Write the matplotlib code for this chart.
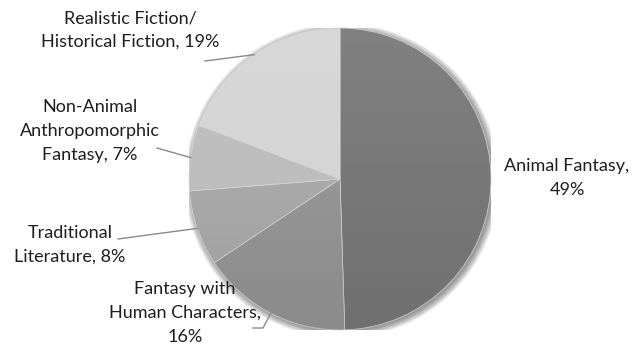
import numpy as np
import matplotlib
matplotlib.use('Agg')
import matplotlib.pyplot as plt
from matplotlib.patches import Circle

# 各类图书所占比例 (%)
genres = ['Animal Fantasy', 'Fantasy with Human Characters', 'Traditional Literature',
          'Non-Animal Anthropomorphic Fantasy', 'Realistic Fiction/ Historical Fiction']
shares = [49, 16, 8, 7, 19]
label_texts = ['Animal Fantasy,\n49%',
               'Fantasy with\nHuman Characters,\n16%',
               'Traditional\nLiterature, 8%',
               'Non-Animal\nAnthropomorphic\nFantasy, 7%',
               'Realistic Fiction/\nHistorical Fiction, 19%']
colors = ['#787878', '#959595', '#a9a9a9', '#bdbdbd', '#d5d5d5']

W, H = 642, 350
cx, cy, r = 340, 179, 151


def to_data(px, py):
    # 像素坐标 -> 饼图数据坐标 (半径为 1)
    return (px - cx) / r, (cy - py) / r


plt.rcParams['font.family'] = ['Lato', 'DejaVu Sans']
fig = plt.figure(figsize=(W / 100, H / 100), dpi=100)
ax = fig.add_axes([(cx - r) / W, (H - cy - r) / H, 2 * r / W, 2 * r / H])

# 右下方的柔和阴影
for k in range(8):
    ax.add_patch(Circle((0.012, -0.012), 1.0 + 0.006 * k, facecolor='black',
                        edgecolor='none', alpha=0.06, zorder=0))

wedges, _ = ax.pie(shares, colors=colors, startangle=90, counterclock=False,
                   radius=1, wedgeprops=dict(edgecolor='#d8d8d8', linewidth=0.5))
for w in wedges:
    w.set_zorder(2)

# 上亮下暗的渐变
grad = np.zeros((200, 2, 4))
t = np.linspace(0, 1, 200)[:, None]
grad[..., :3] = np.where(t < 0.5, 1.0, 0.0)[..., None]
grad[..., 3] = np.abs(t - 0.5) * 0.14
img = ax.imshow(grad, extent=(-1, 1, -1, 1), origin='upper', zorder=3,
                interpolation='bilinear', aspect='auto')
img.set_clip_path(Circle((0, 0), 1, transform=ax.transData))

ax.set_xlim(-1, 1)
ax.set_ylim(-1, 1)
ax.set_aspect('equal')
ax.axis('off')

# 标签位置 (像素) 以及引导线的起点
label_pos = [(567, 178), (185, 313), (70, 245), (90, 131), (130, 30)]
leader_pts = [None,
              [(253, 328), (263, 328)],
              [(118, 239)],
              [(157, 148)],
              [(205, 61)]]

for w, txt, (lx, ly), pts in zip(wedges, label_texts, label_pos, leader_pts):
    x, y = to_data(lx, ly)
    ax.text(x, y, txt, ha='center', va='center', fontsize=13,
            color='#1e1e1e', linespacing=1.6, zorder=5)
    if pts is None:
        continue
    mid = np.deg2rad((w.theta1 + w.theta2) / 2)
    xs = [to_data(*p)[0] for p in pts] + [np.cos(mid)]
    ys = [to_data(*p)[1] for p in pts] + [np.sin(mid)]
    ax.plot(xs, ys, color='#8a8a8a', linewidth=1, clip_on=False, zorder=4)

plt.savefig('out.png', dpi=100)
